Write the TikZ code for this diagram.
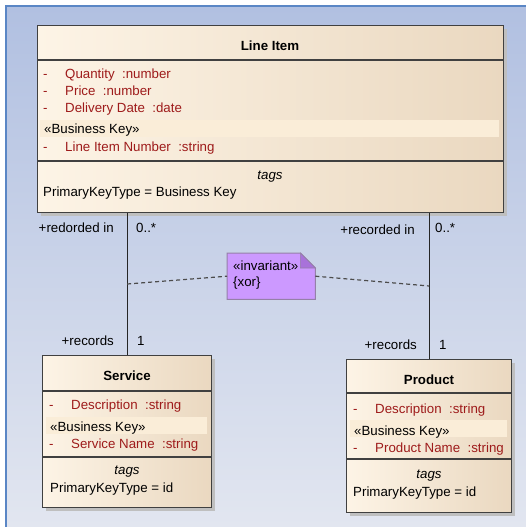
\documentclass[tikz,border=0pt]{standalone}
\usepackage{fontspec}
\setmainfont{Liberation Sans}
\usetikzlibrary{shadows}
\newcommand\umlfont{\fontsize{13.3}{16}\selectfont}
\definecolor{clsl}{HTML}{FDF4E6}
\definecolor{clsr}{HTML}{EAD8C0}
\definecolor{keyband}{HTML}{FAEDD8}
\definecolor{attrred}{HTML}{9E1B1B}
\definecolor{bgtop}{HTML}{B1C0E1}
\definecolor{bgbot}{HTML}{E2E6F0}
\definecolor{frameblue}{HTML}{5A86C5}
\definecolor{notefill}{HTML}{CC99FF}
\definecolor{noteedge}{HTML}{9580A8}
\definecolor{notefold}{HTML}{A872DA}
\tikzset{
        every node/.style={font=\umlfont, inner sep=0pt, text height=12pt, text depth=1pt},
        classbox/.style={draw=black!75, line width=1.4pt, left color=clsl, right color=clsr, anchor=north west,
          drop shadow={shadow xshift=3pt, shadow yshift=-3pt, fill=black!25, opacity=1}},
        divider/.style={draw=black!75, line width=1.2pt},
        title/.style={font=\umlfont\bfseries},
        tagtitle/.style={font=\umlfont\itshape},
        attr/.style={text=attrred, anchor=west},
        plain/.style={anchor=west},
        role/.style={anchor=east},
        mult/.style={anchor=west},
        assoc/.style={draw=black!85, line width=1.3pt},
        constraint/.style={draw=black!70, line width=1.2pt, dash pattern=on 4pt off 3pt},
        note/.style={anchor=north west, minimum width=88pt, minimum height=46pt}
          }
\begin{document}
\begin{tikzpicture}[x=1pt, y=-1pt]
        \useasboundingbox (0,0) rectangle (526,527);
        \fill[white] (0,0) rectangle (526,527);
        \shade[top color=bgtop, bottom color=bgbot] (6,6) rectangle (526,527);
        \draw[frameblue, line width=2pt] (6,527) -- (6,6) -- (526,6);
        % classes
        \node[classbox, minimum width=466pt, minimum height=187pt] (item) at (37,25) {};
        \node[classbox, minimum width=169pt, minimum height=152pt] (service) at (42,355) {};
        \node[classbox, minimum width=165pt, minimum height=153pt] (product) at (346,359) {};
        \draw[divider] (item.west |- 0,60) -- (item.east |- 0,60);
        \draw[divider] (item.west |- 0,161) -- (item.east |- 0,161);
        \draw[divider] (service.west |- 0,391) -- (service.east |- 0,391);
        \draw[divider] (service.west |- 0,457) -- (service.east |- 0,457);
        \draw[divider] (product.west |- 0,393) -- (product.east |- 0,393);
        \draw[divider] (product.west |- 0,459) -- (product.east |- 0,459);
        \fill[keyband] (40,120) rectangle (499,137);
        \fill[keyband] (46,417) rectangle (207,434);
        \fill[keyband] (350,420) rectangle (507,437);
        % Line Item
        \node[title] (itemname) at (270,45) {Line Item};
        \node[attr] at (43,73) {-};
        \node[attr] (qty) at (65,73) {Quantity~~:number};
        \node[attr] at (43,90) {-};
        \node[attr] (price) at (65,90) {Price~~:number};
        \node[attr] at (43,107) {-};
        \node[attr] (ddate) at (65,107) {Delivery Date~~:date};
        \node[plain] (itemkey) at (44,128) {«Business Key»};
        \node[attr] at (43,146) {-};
        \node[attr] (linenr) at (65,146) {Line Item Number~~:string};
        \node[tagtitle] (itemtags) at (270,174) {tags};
        \node[plain] (itempk) at (43,191) {PrimaryKeyType = Business Key};
        % Service
        \node[title] (servicename) at (127,375) {Service};
        \node[attr] at (49,404) {-};
        \node[attr] (sdesc) at (71,404) {Description~~:string};
        \node[plain] (servicekey) at (50,426) {«Business Key»};
        \node[attr] at (49,443) {-};
        \node[attr] (sname) at (71,443) {Service Name~~:string};
        \node[tagtitle] (servicetags) at (127,469) {tags};
        \node[plain] (servicepk) at (50,487) {PrimaryKeyType = id};
        % Product
        \node[title] (productname) at (429,379) {Product};
        \node[attr] at (353,408) {-};
        \node[attr] (pdesc) at (375,408) {Description~~:string};
        \node[plain] (productkey) at (354,430) {«Business Key»};
        \node[attr] at (353,447) {-};
        \node[attr] (pname) at (375,447) {Product Name~~:string};
        \node[tagtitle] (producttags) at (429,473) {tags};
        \node[plain] (productpk) at (353,491) {PrimaryKeyType = id};
        % associations
        \draw[assoc] (item.south -| service.north) -- (service.north);
        \draw[assoc] (item.south -| product.north) -- (product.north);
        \node[role] (r1) at (114,227) {+redorded in};
        \node[mult] (m1) at (136,227) {0..*};
        \node[role] (r2) at (415,229) {+recorded in};
        \node[mult] (m2) at (435,227) {0..*};
        \node[role] (r3) at (114,340) {+records};
        \node[mult] (m3) at (137,340) {1};
        \node[role] (r4) at (417,344) {+records};
        \node[mult] (m4) at (439,344) {1};
        % xor constraint
        \node[note] (xor) at (227,253) {};
        \draw[noteedge, line width=1pt, fill=notefill] (xor.north west) -- ([xshift=-15pt]xor.north east)
          -- ([yshift=-15pt]xor.north east) -- (xor.south east) -- (xor.south west) -- cycle;
        \filldraw[noteedge, line width=0.6pt, fill=notefold] ([xshift=-15pt]xor.north east)
          -- ([xshift=-15pt, yshift=-15pt]xor.north east) -- ([yshift=-15pt]xor.north east) -- cycle;
        \node[plain] (stereo) at (233,265) {«invariant»};
        \node[plain] (xortext) at (233,281) {\{xor\}};
        \coordinate (lhook) at (service.north |- 0,284);
        \coordinate (rhook) at (product.north |- 0,286);
        \draw[constraint] (lhook) -- (xor.west);
        \draw[constraint] (xor.east) -- (rhook);
      \end{tikzpicture}
\end{document}
